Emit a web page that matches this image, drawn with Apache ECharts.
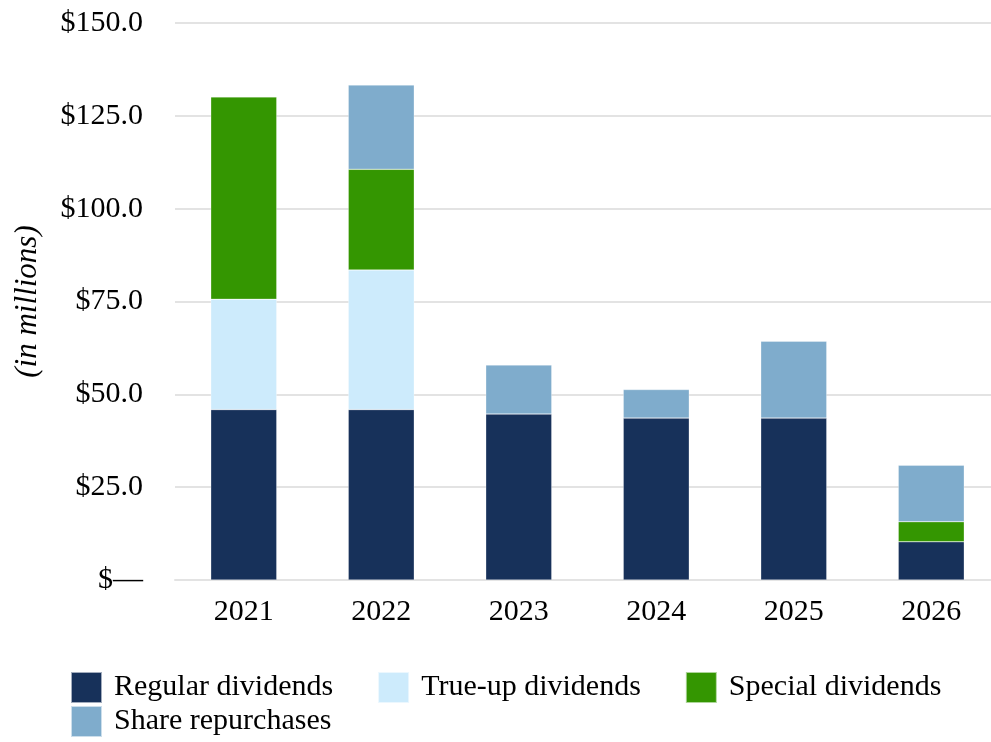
<!DOCTYPE html>
<html>
<head>
<meta charset="utf-8">
<script src="https://cdn.jsdelivr.net/npm/echarts@6/dist/echarts.min.js"></script>
<style>html,body{margin:0;padding:0;background:#fff;}#c{width:991px;height:742px;}</style>
</head>
<body>
<div id="c"></div>
<script>
const categories = ['2021', '2022', '2023', '2024', '2025', '2026'];
const regularDividends = [45.9, 45.9, 44.7, 43.6, 43.6, 10.3];
const trueUpDividends = [29.7, 37.6, 0, 0, 0, 0];
const specialDividends = [54.5, 27.1, 0, 0, 0, 5.4];
const shareRepurchases = [0, 22.7, 13.2, 7.7, 20.7, 15.2];
const seriesNames = ['Regular dividends', 'True-up dividends', 'Special dividends', 'Share repurchases'];
const colors = ['#17315A', '#CDEBFC', '#349601', '#7FACCC'];

const font = "'Liberation Serif', 'Times New Roman', serif";
const chart = echarts.init(document.getElementById('c'), null, {renderer: 'canvas'});
const dataSets = [regularDividends, trueUpDividends, specialDividends, shareRepurchases];
const legendText = {fontFamily: font, fontSize: 30, color: '#000', padding: [0, 0, 0, 7]};
chart.setOption({
  animation: false,
  color: colors,
  grid: {left: 175, width: 825, top: 23, height: 557, containLabel: false, outerBoundsMode: 'none'},
  legend: [
    {data: seriesNames.slice(0, 3), left: 65, top: 666, itemWidth: 31, itemHeight: 31, itemGap: 44,
     icon: 'rect', textStyle: legendText},
    {data: seriesNames.slice(3), left: 65, top: 700, itemWidth: 31, itemHeight: 31, icon: 'rect', textStyle: legendText}
  ],
  xAxis: {
    type: 'category', data: categories,
    axisLine: {show: true, lineStyle: {color: '#e3e3e3', width: 2}},
    axisTick: {show: false},
    axisLabel: {fontFamily: font, fontSize: 30, color: '#000', margin: 17}
  },
  yAxis: {
    type: 'value', min: 0, max: 150, interval: 25,
    name: '(in millions)', nameLocation: 'middle', nameGap: 132, nameRotate: 90,
    nameTextStyle: {fontFamily: font, fontSize: 31, fontStyle: 'italic', color: '#000'},
    axisLine: {show: false}, axisTick: {show: false},
    splitLine: {lineStyle: {color: '#e3e3e3', width: 2}},
    axisLabel: {fontFamily: font, fontSize: 30, color: '#000', margin: 32,
      formatter: v => v === 0 ? '$\u2014' : '$' + v.toFixed(1)}
  },
  series: seriesNames.map((n, i) => ({
    name: n, type: 'bar', stack: 'total', barWidth: 66,
    data: dataSets[i].map(v => v === 0 ? null : v),
    itemStyle: {color: colors[i], borderColor: 'rgba(255,255,255,0.6)', borderWidth: 0.5}
  }))
});
</script>
</body>
</html>
